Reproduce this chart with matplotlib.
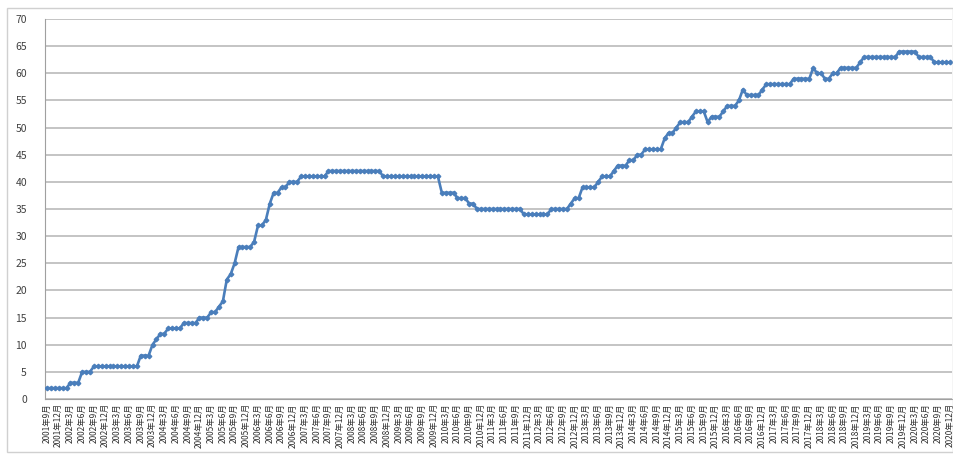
import matplotlib
matplotlib.use("Agg")
import matplotlib.pyplot as plt
from matplotlib.patches import Rectangle

plt.rcParams['font.family'] = ['Noto Sans CJK SC', 'DejaVu Sans']

# Monthly series, September 2001 through December 2020
values_2001 = [2, 2, 2, 2]
values_2002 = [2, 2, 3, 3, 3, 5, 5, 5, 6, 6, 6, 6]
values_2003 = [6, 6, 6, 6, 6, 6, 6, 6, 8, 8, 8, 10]
values_2004 = [11, 12, 12, 13, 13, 13, 13, 14, 14, 14, 14, 15]
values_2005 = [15, 15, 16, 16, 17, 18, 22, 23, 25, 28, 28, 28]
values_2006 = [28, 29, 32, 32, 33, 36, 38, 38, 39, 39, 40, 40]
values_2007 = [40, 41, 41, 41, 41, 41, 41, 41, 42, 42, 42, 42]
values_2008 = [42, 42, 42, 42, 42, 42, 42, 42, 42, 42, 41, 41]
values_2009 = [41, 41, 41, 41, 41, 41, 41, 41, 41, 41, 41, 41]
values_2010 = [41, 38, 38, 38, 38, 37, 37, 37, 36, 36, 35, 35]
values_2011 = [35, 35, 35, 35, 35, 35, 35, 35, 35, 35, 34, 34]
values_2012 = [34, 34, 34, 34, 34, 35, 35, 35, 35, 35, 36, 37]
values_2013 = [37, 39, 39, 39, 39, 40, 41, 41, 41, 42, 43, 43]
values_2014 = [43, 44, 44, 45, 45, 46, 46, 46, 46, 46, 48, 49]
values_2015 = [49, 50, 51, 51, 51, 52, 53, 53, 53, 51, 52, 52]
values_2016 = [52, 53, 54, 54, 54, 55, 57, 56, 56, 56, 56, 57]
values_2017 = [58, 58, 58, 58, 58, 58, 58, 59, 59, 59, 59, 59]
values_2018 = [61, 60, 60, 59, 59, 60, 60, 61, 61, 61, 61, 61]
values_2019 = [62, 63, 63, 63, 63, 63, 63, 63, 63, 63, 64, 64]
values_2020 = [64, 64, 64, 63, 63, 63, 63, 62, 62, 62, 62, 62]

values = (values_2001 + values_2002 + values_2003 + values_2004 + values_2005
          + values_2006 + values_2007 + values_2008 + values_2009 + values_2010
          + values_2011 + values_2012 + values_2013 + values_2014 + values_2015
          + values_2016 + values_2017 + values_2018 + values_2019 + values_2020)

# Category labels: year/month for each point
months = []
for m in range(9, 13):
    months.append(f"2001年{m}月")
for y in range(2002, 2021):
    for m in range(1, 13):
        months.append(f"{y}年{m}月")

y_ticks = [0, 5, 10, 15, 20, 25, 30, 35, 40, 45, 50, 55, 60, 65, 70]

W, H = 954, 454
fig = plt.figure(figsize=(W / 100, H / 100), dpi=100)
fig.patch.set_facecolor('white')

# Chart frame
fig.patches.append(Rectangle((7 / W, 1 - 452 / H), 946 / W, 444 / H,
                             transform=fig.transFigure, fill=False,
                             edgecolor='#d0d0d0', linewidth=1.0))

ax = fig.add_axes([45 / W, 1 - 399 / H, (952 - 45) / W, (399 - 19) / H])

x = list(range(len(values)))
ax.plot(x, values, color='#4a7ebb', linewidth=1.9, marker='D',
        markersize=2.3, markerfacecolor='#4a7ebb', markeredgecolor='#4a7ebb',
        zorder=3)

ax.set_xlim(-0.5, len(values) - 0.5)
ax.set_ylim(0, 70)
ax.set_yticks(y_ticks)
ax.set_yticklabels([str(t) for t in y_ticks], fontsize=7.5, color='#404040')
ax.yaxis.grid(True, color='#c4c4c4', linewidth=1.4)
ax.set_axisbelow(True)

tick_pos = x[::3]
ax.set_xticks(tick_pos)
ax.set_xticklabels([months[i] for i in tick_pos], rotation=90,
                   fontsize=6, color='#303030')

ax.tick_params(axis='y', length=0, pad=13)
ax.tick_params(axis='x', length=0, pad=3)

for side in ('top', 'right'):
    ax.spines[side].set_visible(False)
ax.spines['left'].set_color('#a0a0a0')
ax.spines['bottom'].set_color('#a0a0a0')

fig.savefig('out.png', dpi=100)
